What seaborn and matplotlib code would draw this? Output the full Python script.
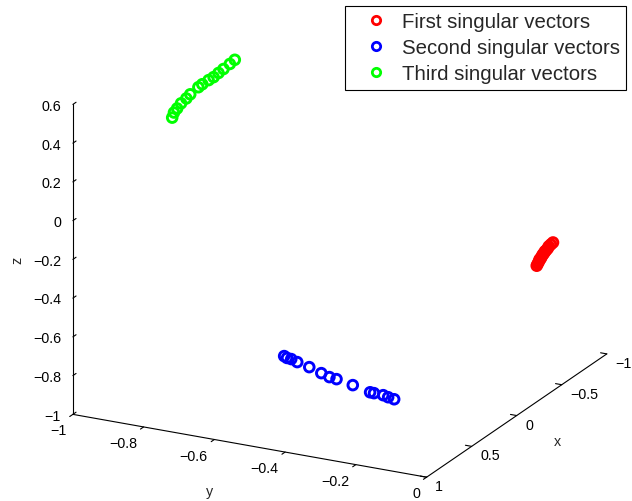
import numpy as np
import matplotlib
matplotlib.use("Agg")
import matplotlib.pyplot as plt
import seaborn as sns
from mpl_toolkits.mplot3d import Axes3D  # noqa
from matplotlib.lines import Line2D

# ---- data ----
first_x = [-0.87] * 14
first_y = [-0.165, -0.162, -0.159, -0.157, -0.154, -0.151, -0.148,
           -0.145, -0.142, -0.139, -0.134, -0.131, -0.125, -0.119]
first_z = [-0.557, -0.545, -0.534, -0.522, -0.517, -0.505, -0.494,
           -0.487, -0.476, -0.470, -0.458, -0.446, -0.434, -0.422]

second_x = [0.3] * 14
second_y = [-0.581, -0.573, -0.561, -0.544, -0.510, -0.476, -0.453,
            -0.433, -0.387, -0.338, -0.327, -0.301, -0.287, -0.270]
second_z = [-0.786, -0.793, -0.795, -0.805, -0.820, -0.840, -0.853,
            -0.857, -0.873, -0.894, -0.895, -0.897, -0.903, -0.908]

third_x = [0.0] * 14
third_y = [-0.974, -0.969, -0.960, -0.949, -0.934, -0.923, -0.900,
           -0.889, -0.871, -0.857, -0.843, -0.829, -0.811, -0.797]
third_z = [0.222, 0.250, 0.274, 0.304, 0.334, 0.359, 0.403,
           0.422, 0.449, 0.469, 0.495, 0.520, 0.552, 0.578]

series_names = ["First singular vectors", "Second singular vectors",
                "Third singular vectors"]
series_colors = ["#ff0000", "#0000ff", "#00ff00"]

x_ticks = [-1, -0.5, 0, 0.5, 1]
x_tick_labels = ["\u22121", "\u22120.5", "0", "0.5", "1"]
y_ticks = [-1, -0.8, -0.6, -0.4, -0.2, 0]
y_tick_labels = ["\u22121", "\u22120.8", "\u22120.6", "\u22120.4", "\u22120.2", "0"]
z_ticks = [-1, -0.8, -0.6, -0.4, -0.2, 0, 0.2, 0.4, 0.6]
z_tick_labels = ["\u22121", "\u22120.8", "\u22120.6", "\u22120.4", "\u22120.2",
                 "0", "0.2", "0.4", "0.6"]

# ---- style ----
sns.set_style("white")
plt.rcParams["font.family"] = ["Liberation Sans", "DejaVu Sans"]
plt.rcParams["axes3d.automargin"] = False

fig = plt.figure(figsize=(6.32, 5.02), dpi=100)
ax = fig.add_axes([0.027, 0.028, 1.0, 1.0], projection="3d")
ax.set_proj_type("ortho")
ax.view_init(elev=20.4, azim=27.0)
ax.set_box_aspect((1, 1, 0.833), zoom=1.26)

data = [(first_x, first_y, first_z), (second_x, second_y, second_z),
        (third_x, third_y, third_z)]
for (xs, ys, zs), name, col in zip(data, series_names, series_colors):
    ax.scatter(xs, ys, zs, s=48, facecolors="none", edgecolors=col,
               linewidths=2.1, depthshade=False, label=name)

ax.set_xlim(-1, 1)
ax.set_ylim(-1, 0)
ax.set_zlim(-1, 0.6)
ax.set_xticks(x_ticks)
ax.set_xticklabels(x_tick_labels, ha="left", va="center")
ax.set_yticks(y_ticks)
ax.set_yticklabels(y_tick_labels, ha="right", va="center")
ax.set_zticks(z_ticks)
ax.set_zticklabels(z_tick_labels, ha="right", va="center")
ax.tick_params(labelsize=10.3, colors="black")
ax.xaxis.set_tick_params(pad=-3.4)
ax.yaxis.set_tick_params(pad=-1.0)
ax.zaxis.set_tick_params(pad=-3.8)
ax.grid(False)
tick_dirs = {"x": (0.0, 0.22), "y": (0.22, 0.0), "z": (0.0, 0.22)}
for name, axis in zip("xyz", (ax.xaxis, ax.yaxis, ax.zaxis)):
    axis.set_pane_color((1, 1, 1, 0))
    axis.pane.set_edgecolor((1, 1, 1, 0))
    axis.line.set_color("black")
    axis.line.set_linewidth(0.8)
    axis._axinfo["tick"]["inward_factor"] = tick_dirs[name][0]
    axis._axinfo["tick"]["outward_factor"] = tick_dirs[name][1]
    axis._axinfo["tick"]["linewidth"] = {True: 0.8, False: 0.5}
    axis._axinfo["tick"]["color"] = "black"

# axis titles
fig.text(557 / 632, 1 - 442 / 502, "x", ha="center", va="center", fontsize=10.3)
fig.text(209 / 632, 1 - 492 / 502, "y", ha="center", va="center", fontsize=10.3)
fig.text(17 / 632, 1 - 260 / 502, "z", ha="center", va="center", fontsize=10.3,
         rotation=90)

handles = [Line2D([], [], linestyle="none", marker="o", markersize=6,
                  markerfacecolor="none", markeredgecolor=c,
                  markeredgewidth=2.0) for c in series_colors]
leg = fig.legend(handles, series_names, loc="upper left",
                 bbox_to_anchor=(345 / 632, 1 - 7 / 502), fontsize=14.7,
                 frameon=True, fancybox=False, edgecolor="black",
                 framealpha=1, handlelength=2.4, handletextpad=0.1,
                 borderpad=0.3, labelspacing=0.35, borderaxespad=0.0)
leg.get_frame().set_linewidth(0.8)

fig.savefig("out.png", dpi=100)
